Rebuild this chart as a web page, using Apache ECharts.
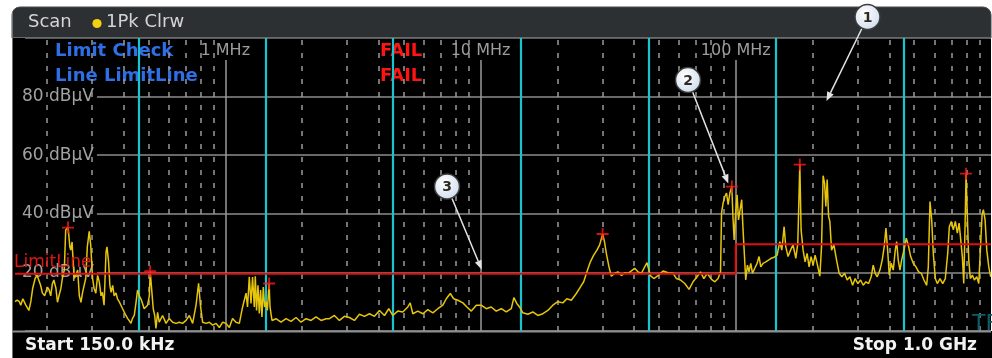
<!DOCTYPE html>
<html><head><meta charset="utf-8">
<script src="https://cdn.jsdelivr.net/npm/echarts/dist/echarts.min.js"></script>
<style>html,body{margin:0;padding:0;background:#fff}#c{width:992px;height:358px}</style>
</head><body><div id="c"></div>
<script>
// ---- data (frequency in MHz, level in dBµV) ----
const traceFreq = [
0.150,0.153,0.156,0.158,0.161,0.165,0.170,0.173,0.176,0.180,
0.183,0.186,0.189,0.192,0.196,0.201,0.204,0.207,0.210,0.213,
0.217,0.220,0.223,0.227,0.230,0.234,0.237,0.242,0.243,0.246,
0.248,0.251,0.252,0.256,0.260,0.264,0.268,0.272,0.276,0.284,
0.288,0.293,0.297,0.302,0.306,0.311,0.316,0.321,0.326,0.330,
0.335,0.341,0.344,0.349,0.353,0.357,0.362,0.367,0.373,0.378,
0.384,0.390,0.396,0.402,0.408,0.414,0.420,0.427,0.433,0.440,
0.447,0.453,0.460,0.467,0.474,0.481,0.489,0.496,0.504,0.508,
0.516,0.522,0.529,0.535,0.543,0.551,0.568,0.586,0.603,0.622,
0.641,0.660,0.680,0.702,0.723,0.745,0.768,0.786,0.799,0.815,
0.841,0.866,0.892,0.920,0.948,0.977,1.006,1.037,1.068,1.101,
1.135,1.169,1.206,1.222,1.242,1.261,1.279,1.299,1.311,1.326,
1.343,1.359,1.375,1.392,1.409,1.426,1.444,1.461,1.485,1.497,
1.524,1.580,1.653,1.730,1.809,1.893,1.980,2.072,2.168,2.268,
2.373,2.483,2.558,2.676,2.800,2.929,3.064,3.206,3.354,3.509,
3.671,3.841,4.018,4.204,4.371,4.531,4.740,4.960,5.189,5.303,
5.429,5.680,5.942,6.217,6.504,6.804,7.118,7.341,7.611,7.846,
8.153,8.529,8.843,9.202,9.627,10.06,10.53,11.01,11.52,12.06,
12.61,13.19,13.51,13.87,14.22,14.65,15.32,16.03,16.77,17.55,
18.36,19.20,20.09,21.02,21.79,22.68,23.73,24.60,25.36,26.11,
26.93,27.76,28.58,29.29,30.09,30.60,31.11,31.86,32.55,33.54,
34.55,35.63,36.71,37.82,39.00,40.18,41.40,42.69,43.98,44.90,
46.30,47.73,49.60,51.89,54.29,56.80,58.57,60.73,63.13,65.63,
68.04,70.54,72.75,74.99,77.22,80.35,82.79,85.29,87.16,87.95,
89.24,90.62,92.02,93.36,94.81,96.50,97.41,98.57,99.73,101.2,
102.5,104.0,105.5,106.8,108.2,109.4,111.1,112.7,114.5,116.3,
118.7,121.2,123.4,125.3,127.9,131.1,134.3,137.5,140.9,145.2,
148.8,151.5,154.7,157.0,160.3,163.9,167.7,171.9,175.0,178.2,
180.3,183.6,186.9,190.3,193.8,197.3,200.9,204.6,208.3,213.5,
216.8,219.9,222.8,225.4,228.1,231.0,233.7,237.3,242.3,248.3,
254.2,260.4,266.9,273.2,280.0,286.9,293.7,300.9,308.4,315.7,
323.5,331.5,339.3,345.5,351.8,358.3,367.1,374.8,381.6,387.6,
393.6,399.3,406.6,414.0,421.6,426.9,433.1,439.8,446.6,456.0,
465.6,474.0,484.5,496.0,508.2,520.8,533.1,546.3,559.8,568.0,
576.8,585.7,594.2,605.1,616.1,631.3,646.9,662.2,676.7,686.6,
699.1,711.8,724.9,738.1,749.9,761.1,772.2,782.1,791.3,798.5,
807.9,818.2,830.1,845.3,860.7,879.5,895.6,908.6,922.7,933.6,
948.1,962.7,980.3,997.3,1000
];
const traceLevel = [
10.0,10.5,10.0,8.8,11.0,9.0,7.0,10.0,14.6,18.0,
19.0,18.4,15.6,13.0,12.0,15.0,14.0,12.0,16.0,17.4,
14.6,9.8,12.0,14.6,18.0,20.8,34.5,35.3,34.0,28.7,
27.6,30.4,27.6,18.0,19.0,20.8,12.0,9.8,13.2,18.0,
28.7,34.0,29.3,18.0,14.6,12.9,19.0,16.7,12.0,13.2,
8.8,27.0,28.7,23.5,15.6,13.2,15.6,12.0,13.0,11.0,
10.0,8.8,7.6,7.0,5.3,4.3,3.6,2.6,4.3,5.3,
9.8,14.0,12.0,11.0,9.4,7.6,7.0,8.8,12.0,20.4,
13.0,7.6,5.3,0.9,6.4,3.0,5.3,2.6,4.3,3.0,
2.6,3.0,2.6,3.6,5.3,2.6,8.8,16.3,8.8,3.0,
2.6,3.0,2.0,2.6,1.2,3.0,2.6,1.2,4.3,3.0,
2.6,8.2,12.9,8.2,18.5,9.4,18.4,8.2,18.7,7.0,
15.6,6.0,14.0,4.8,15.0,8.2,10.0,7.0,16.2,8.2,
3.6,4.2,3.0,4.2,3.3,4.6,3.0,4.2,3.6,4.8,
3.6,4.2,4.2,5.3,3.6,5.0,4.6,3.6,5.7,5.0,
5.9,5.0,7.0,5.3,7.6,5.3,6.8,6.5,8.2,9.6,
5.9,6.8,5.9,7.3,6.2,7.6,8.8,11.0,12.8,11.0,
10.5,9.6,8.2,6.8,8.8,8.8,7.6,8.2,6.8,7.6,
6.5,7.6,11.4,9.4,8.2,6.2,5.7,6.5,5.3,5.9,
7.0,8.8,10.0,9.6,11.0,10.5,12.8,15.0,16.8,20.2,
23.6,25.9,27.6,29.4,33.1,30.5,26.5,21.9,18.7,19.7,
20.2,18.9,19.9,19.7,20.5,21.4,20.2,19.7,21.9,23.3,
18.9,17.9,18.9,20.5,19.9,19.7,17.9,17.4,16.2,14.2,
16.8,18.5,20.2,17.9,19.7,17.6,16.8,17.9,20.2,40.2,
43.7,45.9,47.1,43.1,47.1,49.3,39.7,31.1,39.1,46.5,
37.9,41.4,44.8,34.5,25.4,17.4,22.5,20.2,23.1,19.7,
21.4,23.1,25.4,21.9,23.1,23.6,24.2,24.8,25.1,25.9,
30.5,27.6,35.6,28.8,25.4,27.6,29.4,24.8,29.9,56.8,
34.5,27.6,23.6,26.5,21.9,25.4,22.5,25.9,23.1,18.7,
28.8,53.0,50.5,42.5,51.7,39.1,37.4,27.6,29.4,24.2,
19.7,18.5,19.7,17.4,18.5,15.6,17.9,16.2,17.4,15.6,
16.8,16.2,18.5,22.5,19.7,18.5,20.8,24.2,28.8,35.1,
27.6,19.1,23.1,20.8,27.6,30.5,24.2,20.8,24.2,27.6,
31.7,29.4,25.4,23.1,21.9,20.2,19.7,17.4,15.6,21.9,
44.2,37.9,26.5,17.9,16.2,17.9,16.2,17.9,26.5,35.6,
37.4,34.5,37.4,33.4,36.8,31.1,25.4,16.2,35.6,53.7,
39.1,24.2,17.9,19.1,17.4,18.5,16.2,27.6,39.7,41.4,
37.9,27.6,21.9,18.5,18.5
];
const markerFreq  = [0.242, 0.508, 1.485, 30.09, 96.5, 178.2, 798.5];
const markerLevel = [35.3, 20.4, 16.2, 33.1, 49.3, 56.8, 53.7];
const limitFreq   = [0.15, 100, 100, 1000];
const limitLevel  = [19.5, 19.5, 29.6, 29.6];
const decadeTicks  = [1, 10, 100];
const decadeLabels = ['1 MHz', '10 MHz', '100 MHz'];
const minorTicks = [0.2,0.3,0.4,0.5,0.6,0.7,0.8,0.9, 2,3,4,5,6,7,8,9, 20,30,40,50,60,70,80,90, 200,300,400,500,600,700,800,900];
const subrangeLines = [0.455, 1.44, 4.55, 14.4, 45.5, 144, 455];
const yTicks = [20, 40, 60, 80];
const yUnit = 'dBµV';
const startLabel = 'Start 150.0 kHz';
const stopLabel = 'Stop 1.0 GHz';
const limitCheckLines = [['Limit Check', 'FAIL'], ['Line LimitLine', 'FAIL']];

// ---- chart ----
const FONT = 'DejaVu Sans';
const chart = echarts.init(document.getElementById('c'), null, {renderer: 'canvas'});
const zip = (a, b) => a.map((v, i) => [v, b[i]]);
const DECADE_TOP = 92.5;

const option = {
  backgroundColor: '#ffffff',
  animation: false,
  grid: {left: 15, right: 1, top: 38, bottom: 27, show: true, backgroundColor: '#000', borderWidth: 0},
  xAxis: {type: 'log', logBase: 10, min: 0.15, max: 1000,
    axisLine: {show: false}, axisTick: {show: false}, axisLabel: {show: false}, splitLine: {show: false}},
  yAxis: {type: 'value', min: 0, max: 100, interval: 20,
    axisLine: {show: false}, axisTick: {show: false},
    splitLine: {show: true, lineStyle: {color: '#8c8c8c', width: 1.5}},
    axisLabel: {inside: true, margin: 0, color: '#a2a2a2', fontFamily: FONT, fontSize: 17,
      backgroundColor: '#000', padding: [1, 3, 1, 7],
      formatter: v => yTicks.indexOf(v) >= 0 ? v + ' ' + yUnit : ''}},
  series: [
    {name: 'minor', type: 'line', data: [[0.15, 0]], showSymbol: false, lineStyle: {width: 0}, silent: true, z: 2,
      markLine: {silent: true, symbol: 'none', z: 2, animation: false, label: {show: false},
        lineStyle: {color: '#9a9a9a', type: [5, 8], width: 1.5},
        data: minorTicks.map(v => ({xAxis: v}))}},
    {name: 'decade', type: 'line', data: [[0.15, 0]], showSymbol: false, lineStyle: {width: 0}, silent: true, z: 2,
      markLine: {silent: true, symbol: 'none', z: 2, animation: false, label: {show: false},
        lineStyle: {color: '#9a9a9a', type: 'solid', width: 1.5},
        data: decadeTicks.map(v => [{coord: [v, 0]}, {coord: [v, DECADE_TOP]}])}},
    {name: 'subrange', type: 'line', data: [[0.15, 0]], showSymbol: false, lineStyle: {width: 0}, silent: true, z: 3,
      markLine: {silent: true, symbol: 'none', z: 3, animation: false, label: {show: false},
        lineStyle: {color: '#18c4cd', type: 'solid', width: 2.2},
        data: subrangeLines.map(v => ({xAxis: v}))}},
    {name: '1Pk Clrw', type: 'line', data: zip(traceFreq, traceLevel), showSymbol: false, symbol: 'none', z: 4,
      lineStyle: {color: '#e6c50a', width: 1.5}},
    {name: 'LimitLine', type: 'line', data: zip(limitFreq, limitLevel), showSymbol: false, symbol: 'none', z: 5,
      lineStyle: {color: '#e00f0f', width: 2}},
    {name: 'markers', type: 'scatter', data: zip(markerFreq, markerLevel), z: 6,
      symbol: 'path://M4.4,0h1.6v4.4h4.4v1.6h-4.4v4.4h-1.6v-4.4h-4.4v-1.6h4.4z', symbolSize: 12,
      itemStyle: {color: '#ff1a1a'}}
  ]
};
chart.setOption(option);

// ---- overlay graphics ----
const px = (f, l) => chart.convertToPixel({xAxisIndex: 0, yAxisIndex: 0}, [f, l]);
function txt(x, y, text, size, color, opts) {
  opts = opts || {};
  return {type: 'text', x: x, y: y, z: opts.z != null ? opts.z : 1, silent: true,
    style: {text: text, fontSize: size, fontFamily: FONT, fontWeight: opts.bold ? 'bold' : 'normal',
      fill: color, align: opts.align || 'left', verticalAlign: 'middle',
      textAlign: opts.align || 'left', textVerticalAlign: 'middle'}};
}
function callout(cx, cy, n, tx, ty) {
  const r = 12.5;
  const dx = tx - cx, dy = ty - cy, L = Math.hypot(dx, dy), ux = dx / L, uy = dy / L;
  const sx = cx + ux * r, sy = cy + uy * r;
  const hl = 9, hw = 3.6;
  const bx = tx - ux * hl, by = ty - uy * hl;
  return [
    {type: 'line', z: 20, silent: true, shape: {x1: sx, y1: sy, x2: bx, y2: by}, style: {stroke: '#e4e4e4', lineWidth: 1.5}},
    {type: 'polygon', z: 20, silent: true, shape: {points: [[tx, ty], [bx - uy * hw, by + ux * hw], [bx + uy * hw, by - ux * hw]]}, style: {fill: '#e4e4e4'}},
    {type: 'circle', z: 21, silent: true, shape: {cx: cx, cy: cy, r: r},
      style: {fill: new echarts.graphic.RadialGradient(0.4, 0.35, 0.75, [{offset: 0, color: '#ffffff'}, {offset: 1, color: '#cbd9ec'}]),
        stroke: '#3c3c3c', lineWidth: 1.5}},
    txt(cx, cy + 1, String(n), 14, '#2e2a22', {bold: true, align: 'center', z: 22})
  ];
}

const G = [];
G.push({type: 'rect', z: 0, silent: true, shape: {x: 12, y: 7, width: 979, height: 31, r: [8, 8, 0, 0]}, style: {fill: '#2d3033', stroke: '#4a4c4f', lineWidth: 1}});
G.push({type: 'rect', z: 0, silent: true, shape: {x: 12, y: 331, width: 980, height: 27}, style: {fill: '#000'}});
G.push({type: 'rect', z: 0, silent: true, shape: {x: 12, y: 37, width: 3, height: 295}, style: {fill: '#000'}});
G.push({type: 'line', z: 1, silent: true, shape: {x1: 12.5, y1: 12, x2: 12.5, y2: 358}, style: {stroke: '#707070', lineWidth: 1}});
G.push({type: 'line', z: 1, silent: true, shape: {x1: 12, y1: 37.5, x2: 991, y2: 37.5}, style: {stroke: '#6a6a6a', lineWidth: 1}});
G.push({type: 'line', z: 1, silent: true, shape: {x1: 12, y1: 331.5, x2: 991, y2: 331.5}, style: {stroke: '#8e8e8e', lineWidth: 2}});
// header
G.push(txt(28, 22, 'Scan', 18, '#d4d4d4'));
G.push({type: 'circle', z: 1, silent: true, shape: {cx: 97, cy: 23.5, r: 4.6}, style: {fill: '#f3d20e'}});
G.push(txt(106, 22, '1Pk Clrw', 18, '#d4d4d4'));
// limit check info
limitCheckLines.forEach((row, i) => {
  G.push(txt(55, 51 + i * 25.5, row[0], 18, '#2f6fe6', {bold: true}));
  G.push(txt(380, 51 + i * 25.5, row[1], 18, '#ff1414', {bold: true}));
});
// decade labels
decadeTicks.forEach((v, i) => {
  G.push(txt(px(v, 0)[0], 51, decadeLabels[i], 16, '#9d9d9d', {align: 'center'}));
});
// limit line label
G.push(txt(14, 263, 'LimitLine', 17, '#e01616', {z: 5}));
// TF
G.push(txt(972, 324, 'TF', 22, '#0f5c68', {z: 5}));
// bottom labels
G.push(txt(25, 346, startLabel, 17, '#f2f2f2', {bold: true}));
G.push(txt(977, 346, stopLabel, 17, '#f2f2f2', {bold: true, align: 'right'}));
// callouts
callout(867.5, 17, 1, 826.5, 101).forEach(e => G.push(e));
callout(688, 80, 2, 728.3, 183.5).forEach(e => G.push(e));
callout(447, 186.5, 3, 481.7, 269.5).forEach(e => G.push(e));

chart.setOption({graphic: {elements: G}});
</script>
</body></html>
